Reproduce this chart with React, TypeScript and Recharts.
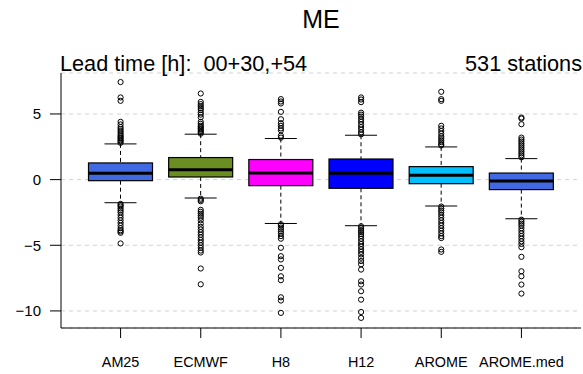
import { ComposedChart, Bar, Scatter, XAxis, YAxis, CartesianGrid } from 'recharts';

const categories = ['AM25', 'ECMWF', 'H8', 'H12', 'AROME', 'AROME.med'];
const boxColors = ['#4169E1', '#6B8E23', '#FF00FF', '#0000FF', '#00BFFF', '#4169E1'];

const whiskerLow = [-1.76, -1.4, -3.34, -3.51, -2.01, -2.98];
const quartileLow = [-0.08, 0.2, -0.46, -0.66, -0.31, -0.76];
const medians = [0.48, 0.76, 0.5, 0.48, 0.33, -0.1];
const quartileHigh = [1.27, 1.68, 1.53, 1.57, 0.99, 0.5];
const whiskerHigh = [2.72, 3.46, 3.13, 3.38, 2.49, 1.6];

const outliersAM25 = [
  7.43, 6.26, 6.0, 4.4, 4.2, 4.0, 3.85, 3.7, 3.55, 3.4, 3.3, 3.2, 3.1, 3.0, 2.9, 2.8,
  -1.85, -1.95, -2.05, -2.2, -2.35, -2.5, -2.7, -2.9, -3.1, -3.3, -3.5, -3.7, -3.85, -3.95, -4.05, -4.86,
];
const outliersECMWF = [
  6.56, 5.92, 5.75, 5.6, 5.45, 5.3, 5.1, 4.95, 4.75, 4.4, 4.25, 4.1, 4.0, 3.9, 3.8, 3.7, 3.6, 3.5,
  -1.45, -1.55, -1.65, -2.3, -2.45, -2.6, -2.75, -2.9, -3.1, -3.35, -3.6, -3.8, -4.0, -4.2, -4.4,
  -4.6, -4.8, -5.0, -5.2, -5.4, -5.55, -6.77, -7.97,
];
const outliersH8 = [
  6.13, 5.95, 5.8, 5.16, 4.6, 4.3, 4.1, 3.9, 3.75, 3.35, 3.2,
  -3.4, -3.5, -3.65, -3.8, -3.95, -4.1, -4.3, -4.5, -5.19, -5.83, -6.08, -6.72, -7.36, -7.66,
  -8.96, -9.21, -10.15,
];
const outliersH12 = [
  6.26, 6.1, 5.9, 5.1, 4.95, 4.8, 4.6, 4.4, 4.2, 4.0, 3.8, 3.6, 3.45,
  -3.55, -3.7, -3.85, -4.0, -4.15, -4.3, -4.5, -4.7, -4.9, -5.1, -5.3, -5.5, -5.7, -5.95, -6.2,
  -6.45, -6.85, -7.74, -7.99, -8.5, -9.14, -10.08, -10.53,
];
const outliersAROME = [
  6.69, 6.13, 6.0, 4.1, 3.9, 3.7, 3.5, 3.3, 3.15, 3.0, 2.85, 2.7, 2.6,
  -2.05, -2.2, -2.35, -2.5, -2.7, -2.9, -3.1, -3.3, -3.5, -3.7, -3.9, -4.1, -4.3, -4.45, -5.32, -5.5,
];
const outliersAROMEmed = [
  4.73, 4.65, 4.22, 3.2, 3.05, 2.9, 2.75, 2.6, 2.45, 2.3, 2.15, 2.0, 1.85, 1.7,
  -3.05, -3.2, -3.35, -3.5, -3.7, -3.9, -4.1, -4.3, -4.5, -4.7, -4.9, -5.15, -5.88, -6.98,
  -7.36, -7.99, -8.68,
];
const outlierLists = [
  outliersAM25, outliersECMWF, outliersH8, outliersH12, outliersAROME, outliersAROMEmed,
];

const yTicks = [-10, -5, 0, 5];

const boxData = categories.map((name, i) => ({
  name,
  lo: whiskerLow[i],
  q1: quartileLow[i],
  med: medians[i],
  q3: quartileHigh[i],
  hi: whiskerHigh[i],
  color: boxColors[i],
}));

const outlierData = categories.flatMap((name, i) => outlierLists[i].map((v) => ({ name, v })));

const FONT = '"Liberation Sans", Arial, Helvetica, sans-serif';

// box + whiskers, positioned from the bar's own [lo, hi] geometry
function BoxShape(props: any) {
  const { x, y, width, height, payload } = props;
  const top = Math.min(y, y + height);
  const bottom = Math.max(y, y + height);
  const py = (v: number) => top + ((bottom - top) * (payload.hi - v)) / (payload.hi - payload.lo);
  const cx = x + width / 2;
  const cap = width / 4;
  return (
    <g>
      <line x1={cx} x2={cx} y1={py(payload.hi)} y2={py(payload.q3)} stroke="#000" strokeDasharray="4 3" />
      <line x1={cx} x2={cx} y1={py(payload.q1)} y2={py(payload.lo)} stroke="#000" strokeDasharray="4 3" />
      <line x1={cx - cap} x2={cx + cap} y1={py(payload.hi)} y2={py(payload.hi)} stroke="#000" />
      <line x1={cx - cap} x2={cx + cap} y1={py(payload.lo)} y2={py(payload.lo)} stroke="#000" />
      <rect
        x={x}
        y={py(payload.q3)}
        width={width}
        height={py(payload.q1) - py(payload.q3)}
        fill={payload.color}
        stroke="#000"
        strokeWidth={1.2}
      />
      <line x1={x} x2={x + width} y1={py(payload.med)} y2={py(payload.med)} stroke="#000" strokeWidth={3} />
    </g>
  );
}

function OutlierDot(props: any) {
  const { cx, cy } = props;
  return <circle cx={cx} cy={cy} r={2.6} fill="none" stroke="#000" strokeWidth={1} />;
}

const fmt = (v: number) => (v < 0 ? `\u2212${-v}` : `${v}`);

export default function App() {
  return (
    <div style={{ position: 'absolute', left: 0, top: 0, width: 583, height: 374, background: '#fff' }}>
      <ComposedChart
        width={583}
        height={374}
        data={boxData}
        margin={{ top: 73, right: 2, bottom: 0, left: 0 }}
      >
        <CartesianGrid horizontal vertical={false} stroke="#d3d3d3" strokeDasharray="4 4" />
        <XAxis
          dataKey="name"
          type="category"
          allowDuplicatedCategory={false}
          padding={{ left: 19.5, right: 19.5 }}
          height={46}
          axisLine={{ stroke: '#000' }}
          tickLine={{ stroke: '#000' }}
          tickSize={10}
          tickMargin={19}
          tick={{ fill: '#000', fontSize: 14.4, fontFamily: FONT }}
          interval={0}
        />
        <XAxis
          xAxisId="top"
          dataKey="name"
          orientation="top"
          height={0}
          tick={false}
          tickLine={false}
          axisLine={{ stroke: '#000' }}
        />
        <YAxis
          type="number"
          domain={[-11.3, 8.12]}
          allowDataOverflow
          ticks={yTicks}
          width={61}
          axisLine={{ stroke: '#000' }}
          tickLine={{ stroke: '#000' }}
          tickSize={11}
          tickMargin={9}
          tickFormatter={fmt}
          tick={{ fill: '#000', fontSize: 15, fontFamily: FONT }}
        />
        <YAxis
          yAxisId="right"
          orientation="right"
          domain={[-11.3, 8.12]}
          width={0}
          tick={false}
          tickLine={false}
          axisLine={{ stroke: '#000' }}
        />
        <Bar
          dataKey={(d: any) => [d.lo, d.hi]}
          barSize={64}
          shape={BoxShape}
          isAnimationActive={false}
        />
        <Scatter data={outlierData} dataKey="v" shape={OutlierDot} isAnimationActive={false} />
      </ComposedChart>
      <svg
        width={583}
        height={374}
        style={{ position: 'absolute', left: 0, top: 0, pointerEvents: 'none' }}
        fontFamily={FONT}
      >
        <text x={321} y={27.5} textAnchor="middle" fontSize={25} fill="#000">
          ME
        </text>
        <text x={60} y={70.5} fontSize={21.7} fill="#000" style={{ whiteSpace: 'pre' }}>
          {'Lead time [h]:  00+30,+54'}
        </text>
        <text x={582} y={70.5} textAnchor="end" fontSize={21.7} fill="#000">
          531 stations
        </text>
      </svg>
    </div>
  );
}
